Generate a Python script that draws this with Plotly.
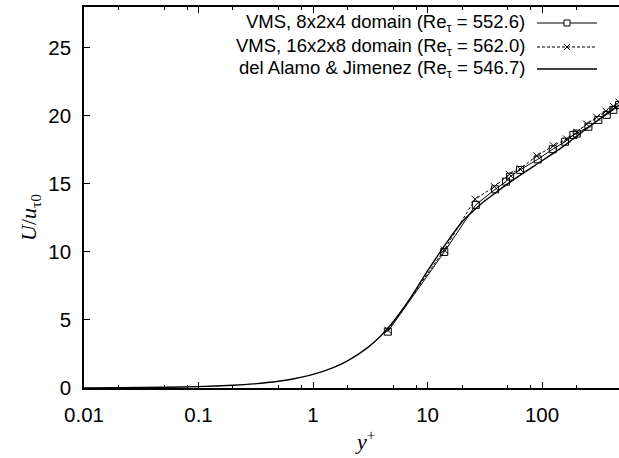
import plotly.graph_objects as go

# ---------------- data ----------------
dns_yplus = [0.01, 0.02, 0.05, 0.1, 0.2, 0.3, 0.5, 0.7, 1, 1.5, 2, 3, 4, 5, 6, 7, 8, 10,
             12, 15, 20, 25, 30, 40, 50, 70, 100, 150, 200, 300, 400, 546.7]
dns_u = [0.01, 0.02, 0.05, 0.1, 0.2, 0.3, 0.5, 0.7, 1.0, 1.5, 2.0, 2.97, 3.92, 4.85, 5.73,
         6.55, 7.3, 8.6, 9.6, 10.8, 12.2, 13.0, 13.6, 14.4, 15.0, 15.85, 16.7, 17.7, 18.5,
         19.6, 20.4, 21.1]

vms8_yplus = [4.5, 14.0, 26.4, 38.9, 48.5, 52.6, 64.3, 91.6, 124, 159, 188, 201, 254, 310,
              367, 420, 470, 552.6]
vms8_u = [4.14, 10.0, 13.46, 14.6, 15.17, 15.54, 16.03, 16.8, 17.55, 18.1, 18.6, 18.7, 19.2,
          19.7, 20.07, 20.44, 20.8, 21.3]

vms16_yplus = [4.5, 14.0, 26.0, 38.3, 51.8, 64.3, 89.8, 125.6, 164, 201, 245, 300, 360,
               420, 470, 562.0]
vms16_u = [4.25, 10.15, 13.87, 14.8, 15.7, 16.1, 17.06, 17.8, 18.3, 18.8, 19.4, 19.9, 20.35,
           20.7, 21.0, 21.5]

legend_labels = [
    "VMS, 8x2x4 domain (Re<sub>τ</sub> = 552.6)",
    "VMS, 16x2x8 domain (Re<sub>τ</sub> = 562.0)",
    "del Alamo & Jimenez (Re<sub>τ</sub> = 546.7)",
]

major_xticks = [0.01, 0.1, 1, 10, 100]
major_xticktext = ["0.01", "0.1", "1", "10", "100"]
minor_xticks = [m * d for d in [0.01, 0.1, 1, 10, 100] for m in (2, 5, 8)]
yticks = [0, 5, 10, 15, 20, 25]

# ---------------- figure ----------------
fig = go.Figure()

fig.add_trace(go.Scatter(
    x=vms8_yplus, y=vms8_u, mode="lines+markers",
    line=dict(color="black", width=1),
    marker=dict(symbol="square-open", size=7, color="black", line=dict(width=1)),
    showlegend=False))

fig.add_trace(go.Scatter(
    x=vms16_yplus, y=vms16_u, mode="lines+markers",
    line=dict(color="black", width=1, dash="3px,2px"),
    marker=dict(symbol="x-thin-open", size=7, color="black", line=dict(width=1, color="black")),
    showlegend=False))

fig.add_trace(go.Scatter(
    x=dns_yplus, y=dns_u, mode="lines",
    line=dict(color="black", width=1.4, shape="spline", smoothing=0.6),
    showlegend=False))

# ---------------- custom legend (text left of sample, right-aligned) ----------------
L, R, T, B = 84, 0, 7, 70
W, H = 619, 458
pw, ph = W - L - R, H - T - B


def px_x(p):
    return (p - L) / pw


def px_y(p):
    return (H - B - p) / ph


rows_y = [23, 47, 69]
text_right = 527
samp_x0, samp_x1 = 537, 597
samp_mid = (samp_x0 + samp_x1) / 2

annotations = []
shapes = []
for i, (lab, ry) in enumerate(zip(legend_labels, rows_y)):
    annotations.append(dict(
        x=px_x(text_right), y=px_y(ry), xref="paper", yref="paper",
        text=lab, showarrow=False, xanchor="right", yanchor="middle",
        font=dict(family="Liberation Sans, Arial, sans-serif", size=18.5, color="black")))
    dash = "3px,2px" if i == 1 else "solid"
    shapes.append(dict(type="line", xref="paper", yref="paper",
                       x0=px_x(samp_x0), x1=px_x(samp_x1), y0=px_y(ry), y1=px_y(ry),
                       line=dict(color="black", width=1.6 if i == 2 else 1.2, dash=dash)))

# square marker sample
s = 3
shapes.append(dict(type="rect", xref="paper", yref="paper",
                   x0=px_x(samp_mid - s), x1=px_x(samp_mid + s),
                   y0=px_y(rows_y[0] - s), y1=px_y(rows_y[0] + s),
                   line=dict(color="black", width=1), fillcolor="white"))
# x marker sample
for dy in (-1, 1):
    shapes.append(dict(type="line", xref="paper", yref="paper",
                       x0=px_x(samp_mid - s), x1=px_x(samp_mid + s),
                       y0=px_y(rows_y[1] - s * dy), y1=px_y(rows_y[1] + s * dy),
                       line=dict(color="black", width=1)))

# axis titles
annotations.append(dict(
    x=px_x(365), y=px_y(440), xref="paper", yref="paper", showarrow=False,
    text="<i>y</i><sup>+</sup>", xanchor="center", yanchor="middle",
    font=dict(family="Liberation Serif, Times New Roman, serif", size=22, color="black")))
annotations.append(dict(
    x=px_x(30), y=px_y(218), xref="paper", yref="paper", showarrow=False,
    text="<i>U</i>/<i>u</i><sub>τ0</sub>", textangle=-90, xanchor="center", yanchor="middle",
    font=dict(family="Liberation Serif, Times New Roman, serif", size=22, color="black")))

tickfont = dict(family="Liberation Sans, Arial, sans-serif", size=20.5, color="black")

fig.update_layout(
    width=W, height=H,
    margin=dict(l=L, r=R, t=T, b=B, pad=0),
    paper_bgcolor="white", plot_bgcolor="white",
    showlegend=False,
    annotations=annotations,
    shapes=shapes,
    xaxis=dict(
        type="log", range=[-2, 2.672],
        tickmode="array", tickvals=major_xticks, ticktext=major_xticktext,
        ticks="inside", ticklen=6, tickwidth=1.2, tickcolor="black",
        minor=dict(tickmode="array", tickvals=minor_xticks, ticks="inside",
                   ticklen=3, tickwidth=1, tickcolor="black", showgrid=False),
        showline=True, linecolor="black", linewidth=1.6, mirror="ticks",
        showgrid=False, zeroline=False, tickfont=tickfont, ticklabelstandoff=8,
    ),
    yaxis=dict(
        range=[0, 28],
        tickmode="array", tickvals=yticks,
        ticks="inside", ticklen=6, tickwidth=1.2, tickcolor="black",
        showline=True, linecolor="black", linewidth=1.6, mirror=False,
        showgrid=False, zeroline=False, tickfont=tickfont, ticklabelstandoff=7,
    ),
)

fig.write_html("out.html")
